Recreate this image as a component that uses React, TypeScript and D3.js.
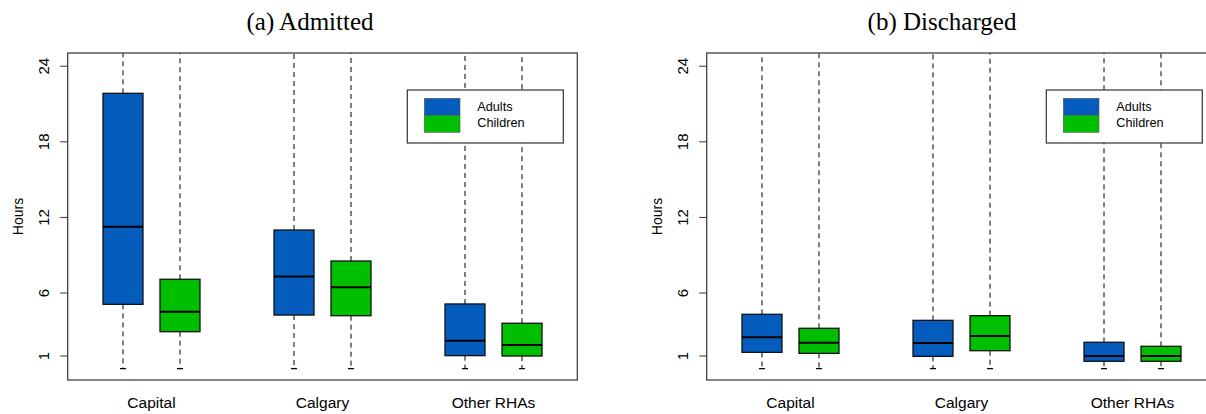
import React from "react";
import * as d3 from "d3";

const categories = ["Capital", "Calgary", "Other RHAs"];
const seriesNames = ["Adults", "Children"];
const seriesColors = ["#045CBC", "#00BE00"];
const positions = [[1, 2], [4, 5], [7, 8]];
const labelPositions = [1.5, 4.5, 7.5];
const yTicks = [1, 6, 12, 18, 24];

// [lower whisker, Q1, median, Q3, upper whisker]
const admittedAdults = [[0, 5.1, 11.26, 21.85, 30], [0, 4.25, 7.32, 11.0, 30], [0, 1.03, 2.22, 5.13, 30]];
const admittedChildren = [[0, 2.93, 4.52, 7.09, 30], [0, 4.2, 6.45, 8.54, 30], [0, 1.0, 1.87, 3.6, 30]];
const dischargedAdults = [[0, 1.29, 2.48, 4.31, 30], [0, 0.97, 2.03, 3.83, 30], [0, 0.58, 1.0, 2.09, 30]];
const dischargedChildren = [[0, 1.21, 2.06, 3.2, 30], [0, 1.42, 2.59, 4.2, 30], [0, 0.58, 1.0, 1.77, 30]];

const panels = [
  { title: "(a) Admitted", left: 67.7, titleX: 310, series: [admittedAdults, admittedChildren], id: "a" },
  { title: "(b) Discharged", left: 706.7, titleX: 942, series: [dischargedAdults, dischargedChildren], id: "b" },
];

const W = 1206, H = 414;
const TOP = 53, BOTTOM = 380;
const PW = 509.6;
const SANS = "'Liberation Sans', Arial, sans-serif";

function Panel({ p }: { p: typeof panels[0] }) {
  const x = d3.scaleLinear().domain([0.03, 8.97]).range([p.left, p.left + PW]);
  const y = d3.scaleLinear().domain([-0.905, 25.05]).range([BOTTOM, TOP]);
  const bw = 40;
  const cap = 6;
  const clipId = "clip-" + p.id;
  const legX = p.left + 339.6;
  const legY = 90;
  return (
    <g>
      <defs>
        <clipPath id={clipId}>
          <rect x={p.left} y={TOP} width={PW} height={BOTTOM - TOP} />
        </clipPath>
      </defs>
      <text x={p.titleX} y={30} textAnchor="middle" fontFamily="'Liberation Serif', 'Times New Roman', serif" fontSize={25} fill="#000">{p.title}</text>
      <g clipPath={`url(#${clipId})`}>
        {p.series.map((ser, si) =>
          ser.map((d, ci) => {
            const cx = x(positions[ci][si]);
            const [lo, q1, med, q3, hi] = d;
            return (
              <g key={si + "-" + ci}>
                <line x1={cx} x2={cx} y1={y(q3)} y2={y(hi)} stroke="#000" strokeWidth={1} strokeDasharray="5,4" />
                <line x1={cx} x2={cx} y1={y(q1)} y2={y(lo)} stroke="#000" strokeWidth={1} strokeDasharray="5,4" />
                <line x1={cx - cap / 2} x2={cx + cap / 2} y1={y(lo)} y2={y(lo)} stroke="#000" strokeWidth={1.3} />
                <rect x={cx - bw / 2} y={y(q3)} width={bw} height={y(q1) - y(q3)} fill={seriesColors[si]} stroke="#111" strokeWidth={1.3} />
                <line x1={cx - bw / 2} x2={cx + bw / 2} y1={y(med)} y2={y(med)} stroke="#000" strokeWidth={2} />
              </g>
            );
          })
        )}
      </g>
      <rect x={p.left} y={TOP} width={PW} height={BOTTOM - TOP} fill="none" stroke="#333" strokeWidth={1.2} />
      {yTicks.map((t) => (
        <g key={t}>
          <line x1={p.left - 7.5} x2={p.left} y1={y(t)} y2={y(t)} stroke="#333" strokeWidth={1} />
          <text transform={`translate(${p.left - 19},${y(t)}) rotate(-90)`} textAnchor="middle" fontFamily={SANS} fontSize={15} fill="#000">{t}</text>
        </g>
      ))}
      <text transform={`translate(${p.left - 45},${(TOP + BOTTOM) / 2}) rotate(-90)`} textAnchor="middle" fontFamily={SANS} fontSize={14} fill="#000">Hours</text>
      {categories.map((c, i) => (
        <text key={c} x={x(labelPositions[i])} y={408} textAnchor="middle" fontFamily={SANS} fontSize={15.5} fill="#000">{c}</text>
      ))}
      <g>
        <rect x={legX} y={legY} width={156} height={53} fill="#fff" stroke="#333" strokeWidth={1.2} />
        {seriesNames.map((s, i) => (
          <g key={s}>
            <rect x={legX + 17} y={legY + 8.3 + i * 17} width={35.7} height={17} fill={seriesColors[i]} stroke="#555" strokeWidth={0.6} />
            <text x={legX + 70} y={legY + 20.7 + i * 16} fontFamily={SANS} fontSize={12.7} fill="#000">{s}</text>
          </g>
        ))}
      </g>
    </g>
  );
}

export default function App() {
  return (
    <svg width={W} height={H} style={{ position: "absolute", left: 0, top: 0, background: "#fff" }}>
      <rect width={W} height={H} fill="#fff" />
      {panels.map((p) => <Panel key={p.id} p={p} />)}
    </svg>
  );
}
